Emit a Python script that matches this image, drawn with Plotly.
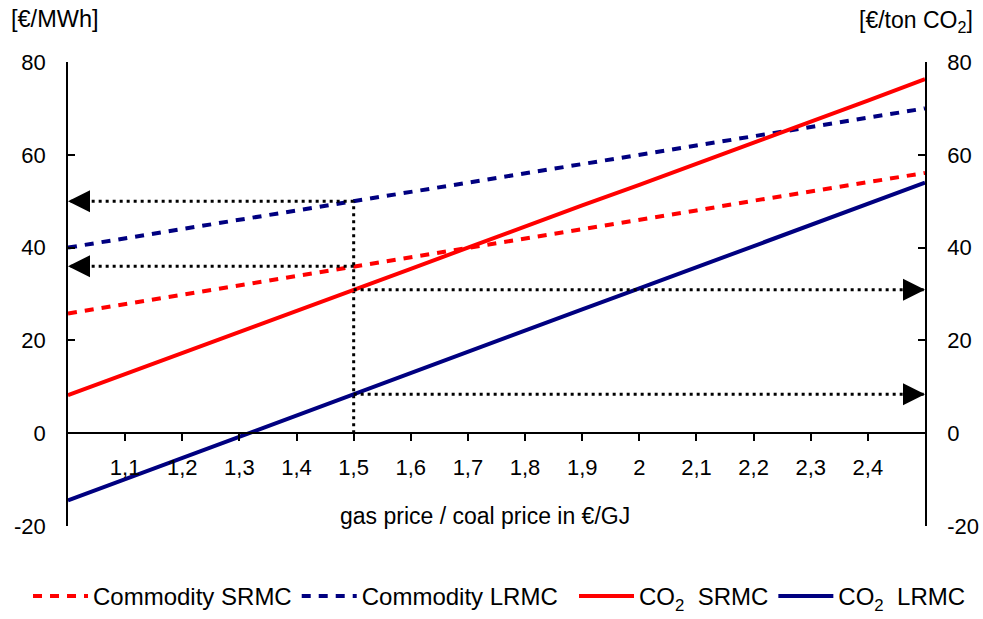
import plotly.graph_objects as go

# Gas/coal price ratio (€/GJ over €/GJ)
price_ratio = [1.0, 1.1, 1.2, 1.3, 1.4, 1.5, 1.6, 1.7, 1.8, 1.9, 2.0, 2.1, 2.2, 2.3, 2.4, 2.5]

# Fuel-switch costs, €/MWh (commodity) and €/ton CO2 (CO2 price)
commodity_srmc = [25.8, 27.8, 29.8, 31.9, 33.9, 36.0, 38.0, 40.0, 42.0, 44.0, 46.0, 48.0, 50.1, 52.1, 54.1, 56.1]
commodity_lrmc = [40.0, 42.0, 44.0, 46.0, 48.0, 50.0, 52.0, 54.0, 56.0, 58.0, 60.0, 62.0, 64.0, 66.0, 68.0, 70.0]
co2_srmc = [8.2, 12.7, 17.2, 21.8, 26.3, 30.9, 35.4, 40.0, 44.6, 49.1, 53.5, 58.0, 62.6, 67.1, 71.7, 76.3]
co2_lrmc = [-14.5, -9.9, -5.3, -0.8, 3.8, 8.4, 13.0, 17.5, 22.1, 26.7, 31.2, 35.8, 40.4, 44.9, 49.5, 54.0]

# Example read-out at a ratio of 1.5
readout_ratio = 1.5
y_ticks = [-20, 0, 20, 40, 60, 80]
x_ticks = [1.1, 1.2, 1.3, 1.4, 1.5, 1.6, 1.7, 1.8, 1.9, 2.0, 2.1, 2.2, 2.3, 2.4]

RED = "#ff0000"
NAVY = "#000080"
FONT = "Liberation Sans, Arial, sans-serif"
LW = 4

i_ref = price_ratio.index(readout_ratio)
x_min, x_max = price_ratio[0], price_ratio[-1]

fig = go.Figure()

fig.add_trace(go.Scatter(x=price_ratio, y=commodity_srmc, mode="lines", name="Commodity SRMC",
                         line=dict(color=RED, width=LW, dash="9px,8px")))
fig.add_trace(go.Scatter(x=price_ratio, y=commodity_lrmc, mode="lines", name="Commodity LRMC",
                         line=dict(color=NAVY, width=LW, dash="9px,8px")))
fig.add_trace(go.Scatter(x=price_ratio, y=co2_srmc, mode="lines", name="CO<sub>2</sub>\u00a0 SRMC",
                         yaxis="y2", legend="legend2", line=dict(color=RED, width=LW)))
fig.add_trace(go.Scatter(x=price_ratio, y=co2_lrmc, mode="lines", name="CO<sub>2</sub>\u00a0 LRMC",
                         yaxis="y2", legend="legend2", line=dict(color=NAVY, width=LW)))

dot = dict(color="black", width=3, dash="3px,4px")
left_levels = [commodity_lrmc[i_ref], commodity_srmc[i_ref]]
right_levels = [co2_srmc[i_ref], co2_lrmc[i_ref]]

# vertical read-out line at the chosen ratio
fig.add_trace(go.Scatter(x=[readout_ratio, readout_ratio], y=[0, max(left_levels)], mode="lines",
                         line=dot, showlegend=False, hoverinfo="skip"))
arrows = []
for lvl in left_levels:
    fig.add_trace(go.Scatter(x=[readout_ratio, x_min], y=[lvl, lvl], mode="lines",
                             line=dot, showlegend=False, hoverinfo="skip"))
    arrows.append(dict(x=x_min, y=lvl, xref="x", yref="y", ax=20, ay=0))
for lvl in right_levels:
    fig.add_trace(go.Scatter(x=[readout_ratio, x_max], y=[lvl, lvl], mode="lines",
                             line=dot, showlegend=False, hoverinfo="skip", yaxis="y2"))
    arrows.append(dict(x=x_max, y=lvl, xref="x", yref="y2", ax=-20, ay=0))

annotations = []
for a in arrows:
    a.update(text="", showarrow=True, arrowhead=2, arrowsize=2.2, arrowwidth=2,
             arrowcolor="black", standoff=0)
    annotations.append(a)

annotations += [
    dict(text="[€/MWh]", xref="paper", yref="paper", x=-0.069, y=1.092, xanchor="left",
         yanchor="middle", showarrow=False, font=dict(size=23.5)),
    dict(text="[€/ton CO<sub>2</sub>]", xref="paper", yref="paper", x=1.058, y=1.088,
         xanchor="right", yanchor="middle", showarrow=False, font=dict(size=23)),
    dict(text="gas price / coal price in €/GJ", xref="paper", yref="paper", x=0.487, y=0.022,
         xanchor="center", yanchor="middle", showarrow=False, font=dict(size=23)),
]

yaxis_common = dict(range=[-20, 80], tickvals=y_ticks, ticktext=[str(v) for v in y_ticks],
                    ticks="inside", ticklen=7, automargin=False,
                    showline=True, linecolor="black", linewidth=1.5, tickcolor="black",
                    tickwidth=1.5, showgrid=False, zeroline=False,
                    tickfont=dict(size=22), ticklabelstandoff=16)

legend_common = dict(orientation="h", xref="container", yref="container", yanchor="bottom",
                     y=-0.031, font=dict(size=24), itemwidth=55, bgcolor="rgba(0,0,0,0)")

fig.update_layout(
    width=983, height=619,
    margin=dict(l=68, r=58, t=62, b=93),
    paper_bgcolor="white", plot_bgcolor="white",
    font=dict(family=FONT, color="black"),
    xaxis=dict(range=[x_min, x_max], tickvals=x_ticks,
               ticktext=[f"{v:g}".replace(".", ",") for v in x_ticks], ticks="outside",
               ticklen=7, tickcolor="black", tickwidth=1.5, showline=True, linecolor="black",
               linewidth=1.5, showgrid=False, zeroline=False, anchor="free", automargin=False,
               position=(0 - y_ticks[0]) / (y_ticks[-1] - y_ticks[0]),
               tickfont=dict(size=22), ticklabelstandoff=8),
    yaxis=dict(**yaxis_common, side="left"),
    yaxis2=dict(**yaxis_common, side="right", overlaying="y", anchor="x"),
    legend=dict(**legend_common, x=0.0285, xanchor="left"),
    legend2=dict(**legend_common, x=0.9878, xanchor="right"),
    annotations=annotations,
    showlegend=True,
)

fig.write_html("out.html")
